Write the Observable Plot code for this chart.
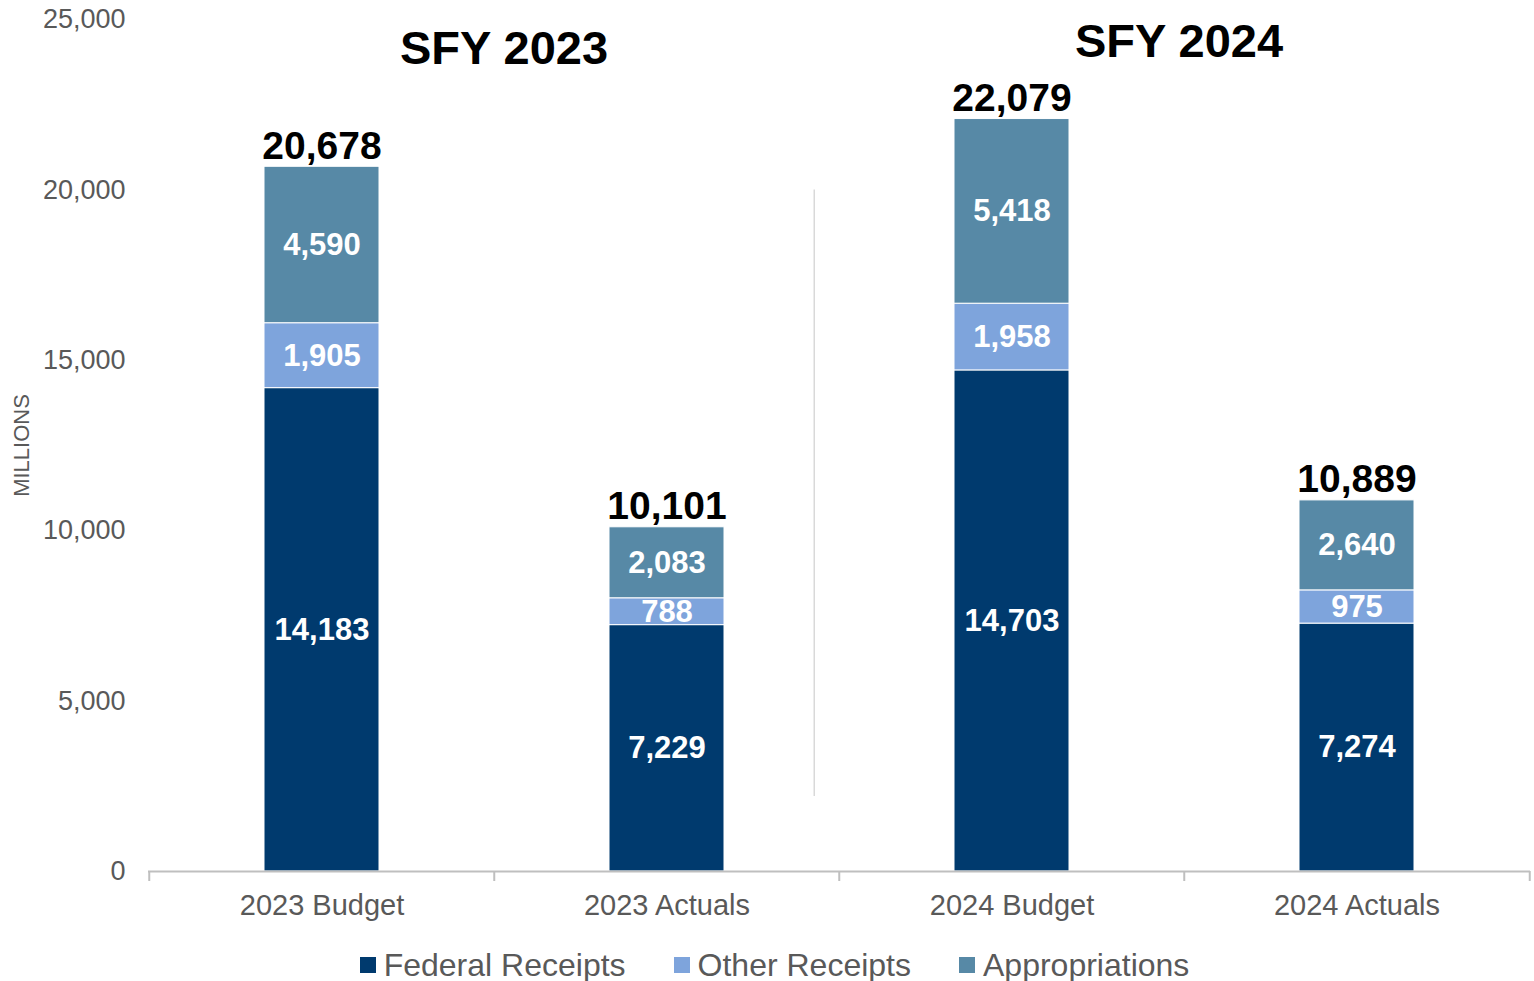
<!DOCTYPE html>
<html>
<head>
<meta charset="utf-8">
<script src="https://cdn.jsdelivr.net/npm/d3@7"></script>
<script src="https://cdn.jsdelivr.net/npm/@observablehq/plot@0.6"></script>
<style>
  html, body { margin: 0; padding: 0; background: #fff; }
  body { width: 1534px; height: 981px; overflow: hidden; font-family: "Liberation Sans", Arial, sans-serif; }
  #legend { display: flex; justify-content: center; align-items: center; gap: 48px; padding-left: 15px; height: 46px; padding-top: 13px; box-sizing: border-box; }
  .item { display: flex; align-items: center; font-size: 32px; color: #595959; line-height: 1; }
  .sw { width: 16px; height: 16px; margin-right: 8px; display: inline-block; }
</style>
</head>
<body>
<div id="chart"></div>
<div id="legend"></div>
<script>
const categories = ["2023 Budget", "2023 Actuals", "2024 Budget", "2024 Actuals"];
const series = ["Federal Receipts", "Other Receipts", "Appropriations"];
const federalReceipts = [14183, 7229, 14703, 7274];
const otherReceipts = [1905, 788, 1958, 975];
const appropriations = [4590, 2083, 5418, 2640];
const totals = [20678, 10101, 22079, 10889];
const groupTitles = ["SFY 2023", "SFY 2024"];
const yTicks = [0, 5000, 10000, 15000, 20000, 25000];
const colors = ["#003A6E", "#7EA4DC", "#5789A6"];

const seriesValues = [federalReceipts, otherReceipts, appropriations];
const rows = [];
categories.forEach((c, i) => {
  series.forEach((s, j) => rows.push({category: c, series: s, value: seriesValues[j][i]}));
});
const totalRows = categories.map((c, i) => ({category: c, total: totals[i]}));

const W = 1534, H = 935, ML = 148, MR = 4, MT = 19, MB = 64;
const step = (W - ML - MR) / categories.length;
const fmt = d3.format(",");
const axisGrey = "#BFBFBF";

const chart = Plot.plot({
  width: W, height: H,
  marginLeft: ML, marginRight: MR, marginTop: MT, marginBottom: MB,
  style: {fontFamily: "'Liberation Sans', Arial, sans-serif", background: "white", overflow: "visible"},
  x: {domain: categories, paddingInner: 2/3, paddingOuter: 1/3, label: null},
  y: {domain: [0, 25000], label: null},
  color: {domain: series, range: colors},
  marks: [
    Plot.axisY({ticks: yTicks, tickFormat: fmt, tickSize: 0, tickPadding: 23, fontSize: 27, fill: "#595959", label: null}),
    Plot.axisX({tickSize: 0, tickPadding: 23, fontSize: 29, fill: "#595959", label: null}),
    Plot.text(["MILLIONS"], {frameAnchor: "left", textAnchor: "middle", dx: -127, rotate: -90, fontSize: 22, fill: "#595959", text: d => d}),
    Plot.barY(rows, {x: "category", y: "value", fill: "series", stroke: "white", strokeWidth: 1, order: series}),
    Plot.text(rows, Plot.stackY({x: "category", y: "value", z: "series", order: series, text: d => fmt(d.value), fill: "white", fontSize: 31, fontWeight: "bold"})),
    Plot.ruleY([0], {stroke: axisGrey, strokeWidth: 2}),
    Plot.ruleX(categories, {x: d => d, dx: -step / 2, y1: 0, y2: 0, insetBottom: -10, stroke: axisGrey, strokeWidth: 2}),
    Plot.ruleX(categories.slice(-1), {x: d => d, dx: step / 2, y1: 0, y2: 0, insetBottom: -10, stroke: axisGrey, strokeWidth: 2}),
    Plot.ruleX([categories[2]], {x: d => d, dx: -step / 2 - 25, y1: 2200, y2: 20000, stroke: "#D9D9D9", strokeWidth: 1.5}),
    Plot.text(totalRows, {x: "category", y: "total", text: d => fmt(d.total), lineAnchor: "bottom", dy: -8, fontSize: 39, fontWeight: "bold", fill: "#000"}),
    Plot.text([groupTitles[0]], {x: () => categories[1], y: () => 24150, dx: -163, text: d => d, fontSize: 47, fontWeight: "bold", fill: "#000"}),
    Plot.text([groupTitles[1]], {x: () => categories[3], y: () => 24330, dx: -178, text: d => d, fontSize: 47, fontWeight: "bold", fill: "#000"})
  ]
});
document.getElementById("chart").appendChild(chart);

const legend = document.getElementById("legend");
series.forEach((s, i) => {
  const item = document.createElement("div");
  item.className = "item";
  const sw = document.createElement("span");
  sw.className = "sw";
  sw.style.background = colors[i];
  item.appendChild(sw);
  item.appendChild(document.createTextNode(s));
  legend.appendChild(item);
});
</script>
</body>
</html>
